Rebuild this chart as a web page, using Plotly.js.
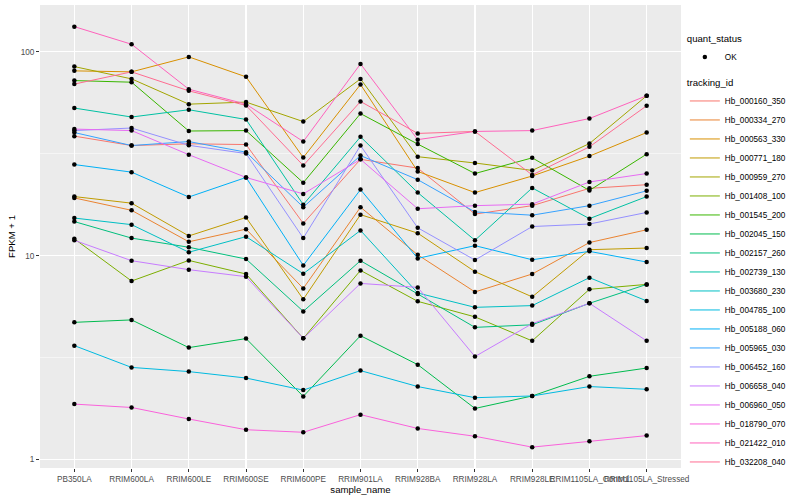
<!DOCTYPE html>
<html><head><meta charset="utf-8">
<script src="https://cdn.plot.ly/plotly-3.0.1.min.js"></script>
<style>html,body{margin:0;padding:0;background:#fff}#chart{width:800px;height:500px}</style>
</head><body><div id="chart"></div>
<script>
const samples = ["PB350LA","RRIM600LA","RRIM600LE","RRIM600SE","RRIM600PE","RRIM901LA","RRIM928BA","RRIM928LA","RRIM928LE","RRIM1105LA_Control","RRIM1105LA_Stressed"];
const trackingIds = ["Hb_000160_350","Hb_000334_270","Hb_000563_330","Hb_000771_180","Hb_000959_270","Hb_001408_100","Hb_001545_200","Hb_002045_150","Hb_002157_260","Hb_002739_130","Hb_003680_230","Hb_004785_100","Hb_005188_060","Hb_005965_030","Hb_006452_160","Hb_006658_040","Hb_006960_050","Hb_018790_070","Hb_021422_010","Hb_032208_040"];
const seriesColors = ["#F8766D","#EA8331","#D89000","#C09B00","#A3A500","#7CAE00","#39B600","#00BB4E","#00BF7D","#00C1A3","#00BFC4","#00BAE0","#00B0F6","#35A2FF","#9590FF","#C77CFF","#E76BF3","#FA62DB","#FF62BC","#FF6C91"];

// FPKM + 1 values per tracking_id, in sample order
const Hb_000160_350 = [38.6, 34.7, 35.4, 35.1, 14.4, 29.7, 26.9, 16.0, 17.6, 21.4, 22.3];
const Hb_000334_270 = [19.2, 16.7, 11.7, 13.5, 6.91, 17.3, 10.1, 6.64, 8.13, 11.6, 13.4];
const Hb_000563_330 = [80.7, 79.8, 94.5, 75.4, 30.3, 69.2, 25.9, 20.4, 24.6, 30.8, 40.2];
const Hb_000771_180 = [19.5, 18.1, 12.5, 15.4, 6.11, 15.9, 12.9, 8.35, 6.28, 10.7, 10.9];
const Hb_000959_270 = [84.7, 73.7, 55.4, 56.7, 45.5, 73.7, 30.6, 28.5, 26.2, 35.5, 60.9];
const Hb_001408_100 = [12.1, 7.51, 9.48, 8.13, 3.93, 8.47, 5.97, 5.01, 3.82, 6.84, 7.23];
const Hb_001545_200 = [72.3, 71.0, 40.9, 41.1, 22.8, 49.8, 35.3, 25.3, 30.2, 20.9, 31.5];
const Hb_002045_150 = [4.71, 4.84, 3.54, 3.92, 2.04, 4.05, 2.92, 1.78, 2.05, 2.56, 2.81];
const Hb_002157_260 = [14.7, 12.2, 11.0, 9.63, 5.33, 9.45, 6.49, 4.45, 4.58, 5.84, 7.23];
const Hb_002739_130 = [53.0, 47.9, 52.0, 46.6, 17.8, 38.3, 20.4, 11.9, 21.5, 15.2, 19.5];
const Hb_003680_230 = [15.3, 14.2, 10.4, 12.4, 8.16, 13.3, 6.56, 5.58, 5.69, 7.80, 6.00];
const Hb_004785_100 = [3.62, 2.83, 2.70, 2.51, 2.19, 2.73, 2.28, 2.01, 2.05, 2.28, 2.21];
const Hb_005188_060 = [28.0, 25.7, 19.4, 24.2, 8.96, 21.1, 9.70, 11.2, 9.55, 10.5, 9.31];
const Hb_005965_030 = [40.2, 34.7, 36.3, 32.2, 17.3, 31.0, 23.6, 16.4, 15.8, 17.6, 20.8];
const Hb_006452_160 = [41.1, 42.3, 34.8, 31.7, 12.2, 34.7, 13.7, 9.52, 13.9, 14.3, 16.3];
const Hb_006658_040 = [11.9, 9.45, 8.54, 7.89, 3.93, 7.31, 6.99, 3.20, 4.64, 5.84, 3.82];
const Hb_006960_050 = [41.8, 41.1, 31.3, 24.2, 20.1, 29.7, 17.0, 17.6, 17.9, 23.0, 25.3];
const Hb_018790_070 = [1.87, 1.80, 1.58, 1.40, 1.36, 1.66, 1.42, 1.30, 1.15, 1.23, 1.31];
const Hb_021422_010 = [133, 109, 65.6, 55.4, 36.3, 87.3, 37.1, 40.7, 41.1, 47.1, 60.9];
const Hb_032208_040 = [69.5, 79.8, 64.4, 54.6, 27.7, 57.1, 39.8, 40.7, 24.9, 34.2, 54.4];

const seriesValues = [Hb_000160_350,Hb_000334_270,Hb_000563_330,Hb_000771_180,Hb_000959_270,Hb_001408_100,Hb_001545_200,Hb_002045_150,Hb_002157_260,Hb_002739_130,Hb_003680_230,Hb_004785_100,Hb_005188_060,Hb_005965_030,Hb_006452_160,Hb_006658_040,Hb_006960_050,Hb_018790_070,Hb_021422_010,Hb_032208_040];

const yTickVals = [1, 10, 100];
const yTickText = ["1", "10", "100"];

const FONT = "'Liberation Sans', Arial, Helvetica, sans-serif";

const traces = [];
trackingIds.forEach((id, i) => {
  traces.push({
    type: 'scatter', mode: 'lines', name: id,
    x: samples, y: seriesValues[i],
    line: {color: seriesColors[i], width: 1},
    legend: 'legend2', hoverinfo: 'x+y+name'
  });
});
// points layer (quant_status = OK)
const allX = [], allY = [];
seriesValues.forEach(vals => vals.forEach((v, j) => { allX.push(samples[j]); allY.push(v); }));
traces.push({
  type: 'scatter', mode: 'markers', name: 'OK',
  x: allX, y: allY,
  marker: {color: '#000000', size: 4.5},
  legend: 'legend'
});

const layout = {
  width: 800, height: 500,
  margin: {l: 40, r: 119, t: 5, b: 31.5},
  paper_bgcolor: '#FFFFFF', plot_bgcolor: '#EBEBEB',
  font: {family: FONT, color: '#000000'},
  showlegend: true,
  xaxis: {
    type: 'category', range: [-0.6, 10.6],
    showgrid: true, gridcolor: '#FFFFFF', gridwidth: 1.1,
    zeroline: false, showline: false,
    ticks: 'outside', ticklen: 3, tickcolor: '#333333', tickwidth: 1,
    tickangle: 0, tickfont: {family: FONT, size: 8.2, color: '#4D4D4D'},
    title: {text: 'sample_name', font: {family: FONT, size: 9.6, color: '#000000'}, standoff: 0}
  },
  yaxis: {
    type: 'log', range: [-0.0417, 2.230],
    tickmode: 'array', tickvals: yTickVals, ticktext: yTickText,
    showgrid: true, gridcolor: '#FFFFFF', gridwidth: 1.1,
    minor: {tickmode: 'array', tickvals: [Math.sqrt(10), Math.sqrt(1000)], showgrid: true, gridcolor: '#FFFFFF', gridwidth: 0.5, ticks: ''},
    zeroline: false, showline: false,
    ticks: 'outside', ticklen: 3, tickcolor: '#333333', tickwidth: 1,
    tickfont: {family: FONT, size: 8.2, color: '#4D4D4D'},
    title: {text: 'FPKM + 1', font: {family: FONT, size: 9.6, color: '#000000'}, standoff: 3}
  },
  legend: {
    x: 1.006, xanchor: 'left', y: 0.946, yanchor: 'top',
    bgcolor: 'rgba(0,0,0,0)',
    title: {text: 'quant_status', font: {family: FONT, size: 9.6, color: '#000000'}},
    font: {family: FONT, size: 8.2, color: '#000000'}
  },
  legend2: {
    x: 1.006, xanchor: 'left', y: 0.851, yanchor: 'top',
    bgcolor: 'rgba(0,0,0,0)',
    title: {text: 'tracking_id', font: {family: FONT, size: 9.6, color: '#000000'}},
    font: {family: FONT, size: 8.2, color: '#000000'}
  }
};

Plotly.newPlot('chart', traces, layout, {displayModeBar: false, staticPlot: true});
</script>
</body></html>
